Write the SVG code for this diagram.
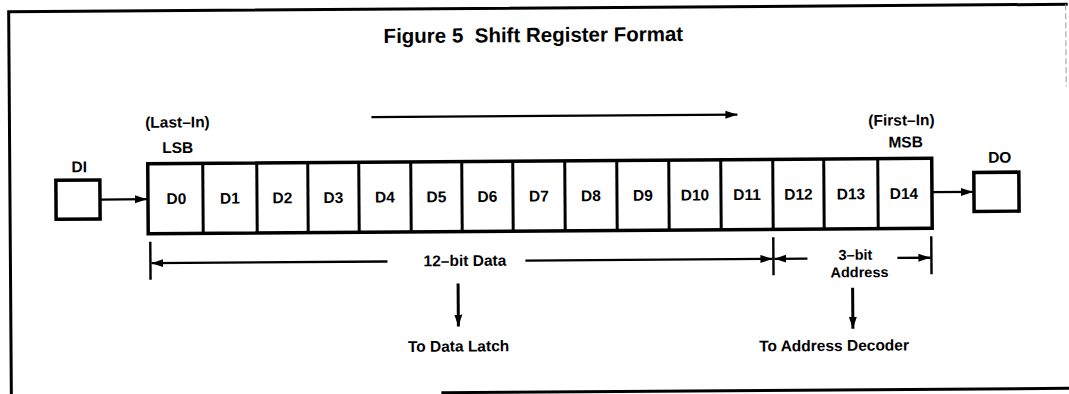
<svg xmlns="http://www.w3.org/2000/svg" width="1069" height="394" viewBox="0 0 1069 394">
<style>
text{font-family:"Liberation Sans",Arial,sans-serif;font-weight:bold;fill:#000;text-anchor:middle}
.t{font-size:15.5px}
.s{font-size:14.5px}
.title{font-size:20.5px}
.frame{fill:none;stroke:#000;stroke-width:3}
.box{fill:#fff;stroke:#000;stroke-width:3.5}
.div{stroke:#000;stroke-width:3}
.ln{fill:none;stroke:#000;stroke-width:2.3}
.dn{fill:none;stroke:#000;stroke-width:3}
.tick{stroke:#000;stroke-width:2.4}
</style>
<defs>
<marker id="ah" markerUnits="userSpaceOnUse" markerWidth="12" markerHeight="9" refX="12" refY="4.5" orient="auto">
<path d="M0,0.5 L12,4.5 L0,8.5 z" fill="#000"/>
</marker>
</defs>
<g transform="rotate(-0.4 534 200)">
<g id="frame">
<polyline class="frame" points="10,396 10,8 1069,8"/>
<line class="frame" x1="440" y1="392" x2="1069" y2="392"/>
<line x1="1067" y1="8" x2="1067" y2="90" stroke="#999" stroke-width="1" stroke-dasharray="6 3"/>
</g>
<g id="title"><text class="title" x="534.5" y="42" xml:space="preserve">Figure 5  Shift Register Format</text></g>
<g id="register">
<rect class="box" x="148" y="161" width="784" height="70"/>
<g class="div">
<line x1="203" y1="161" x2="203" y2="231"/><line x1="257" y1="161" x2="257" y2="231"/>
<line x1="308" y1="161" x2="308" y2="231"/><line x1="359" y1="161" x2="359" y2="231"/>
<line x1="411" y1="161" x2="411" y2="231"/><line x1="462" y1="161" x2="462" y2="231"/>
<line x1="513" y1="161" x2="513" y2="231"/><line x1="565" y1="161" x2="565" y2="231"/>
<line x1="617" y1="161" x2="617" y2="231"/><line x1="669" y1="161" x2="669" y2="231"/>
<line x1="721" y1="161" x2="721" y2="231"/><line x1="773" y1="161" x2="773" y2="231"/>
<line x1="824" y1="161" x2="824" y2="231"/><line x1="878" y1="161" x2="878" y2="231"/>
</g>
<text class="t" x="176.5" y="201.5">D0</text>
<text class="t" x="230" y="201.5">D1</text>
<text class="t" x="282.5" y="201.5">D2</text>
<text class="t" x="333.5" y="201.5">D3</text>
<text class="t" x="385" y="201.5">D4</text>
<text class="t" x="436.5" y="201.5">D5</text>
<text class="t" x="487.5" y="201.5">D6</text>
<text class="t" x="539" y="201.5">D7</text>
<text class="t" x="591" y="201.5">D8</text>
<text class="t" x="643" y="201.5">D9</text>
<text class="t" x="695" y="201.5">D10</text>
<text class="t" x="747" y="201.5">D11</text>
<text class="t" x="798.5" y="201.5">D12</text>
<text class="t" x="851" y="201.5">D13</text>
<text class="t" x="904" y="201.5">D14</text>
<text class="t" x="178" y="125">(Last–In)</text>
<text class="t" x="178" y="150.5">LSB</text>
<text class="t" x="902" y="128">(First–In)</text>
<text class="t" x="906" y="150">MSB</text>
</g>
<g id="DI">
<rect class="box" x="56" y="177" width="44" height="39"/>
<text class="t" x="79.5" y="169">DI</text>
</g>
<g id="DO">
<rect class="box" x="974" y="175.5" width="45" height="39"/>
<text class="t" x="1000" y="166">DO</text>
</g>
<g id="labels">
<text class="t" x="464.5" y="265.5">12–bit Data</text>
<text class="s" x="855" y="262">3–bit</text>
<text class="s" x="859" y="279.5">Address</text>
<text class="t" x="457.5" y="351">To Data Latch</text>
<text class="t" x="833" y="353">To Address Decoder</text>
</g>
<g id="connectors">
<line class="ln" x1="372" y1="116" x2="738" y2="116" marker-end="url(#ah)"/>
<line class="ln" x1="100" y1="196.5" x2="147" y2="196.5" marker-end="url(#ah)"/>
<line class="ln" x1="932" y1="195" x2="973" y2="195" marker-end="url(#ah)"/>
<line class="tick" x1="150" y1="239" x2="150" y2="277"/>
<line class="tick" x1="773" y1="239" x2="773" y2="277"/>
<line class="tick" x1="931" y1="239" x2="931" y2="277"/>
<line class="ln" x1="387" y1="260.5" x2="151" y2="260.5" marker-end="url(#ah)"/>
<line class="ln" x1="525" y1="260.5" x2="772" y2="260.5" marker-end="url(#ah)"/>
<line class="ln" x1="807" y1="260.5" x2="774" y2="260.5" marker-end="url(#ah)"/>
<line class="ln" x1="897" y1="260.5" x2="930" y2="260.5" marker-end="url(#ah)"/>
<line class="dn" x1="457.5" y1="283" x2="457.5" y2="326" marker-end="url(#ah)"/>
<line class="dn" x1="852" y1="290" x2="852" y2="331" marker-end="url(#ah)"/>
</g>
</g>
</svg>
